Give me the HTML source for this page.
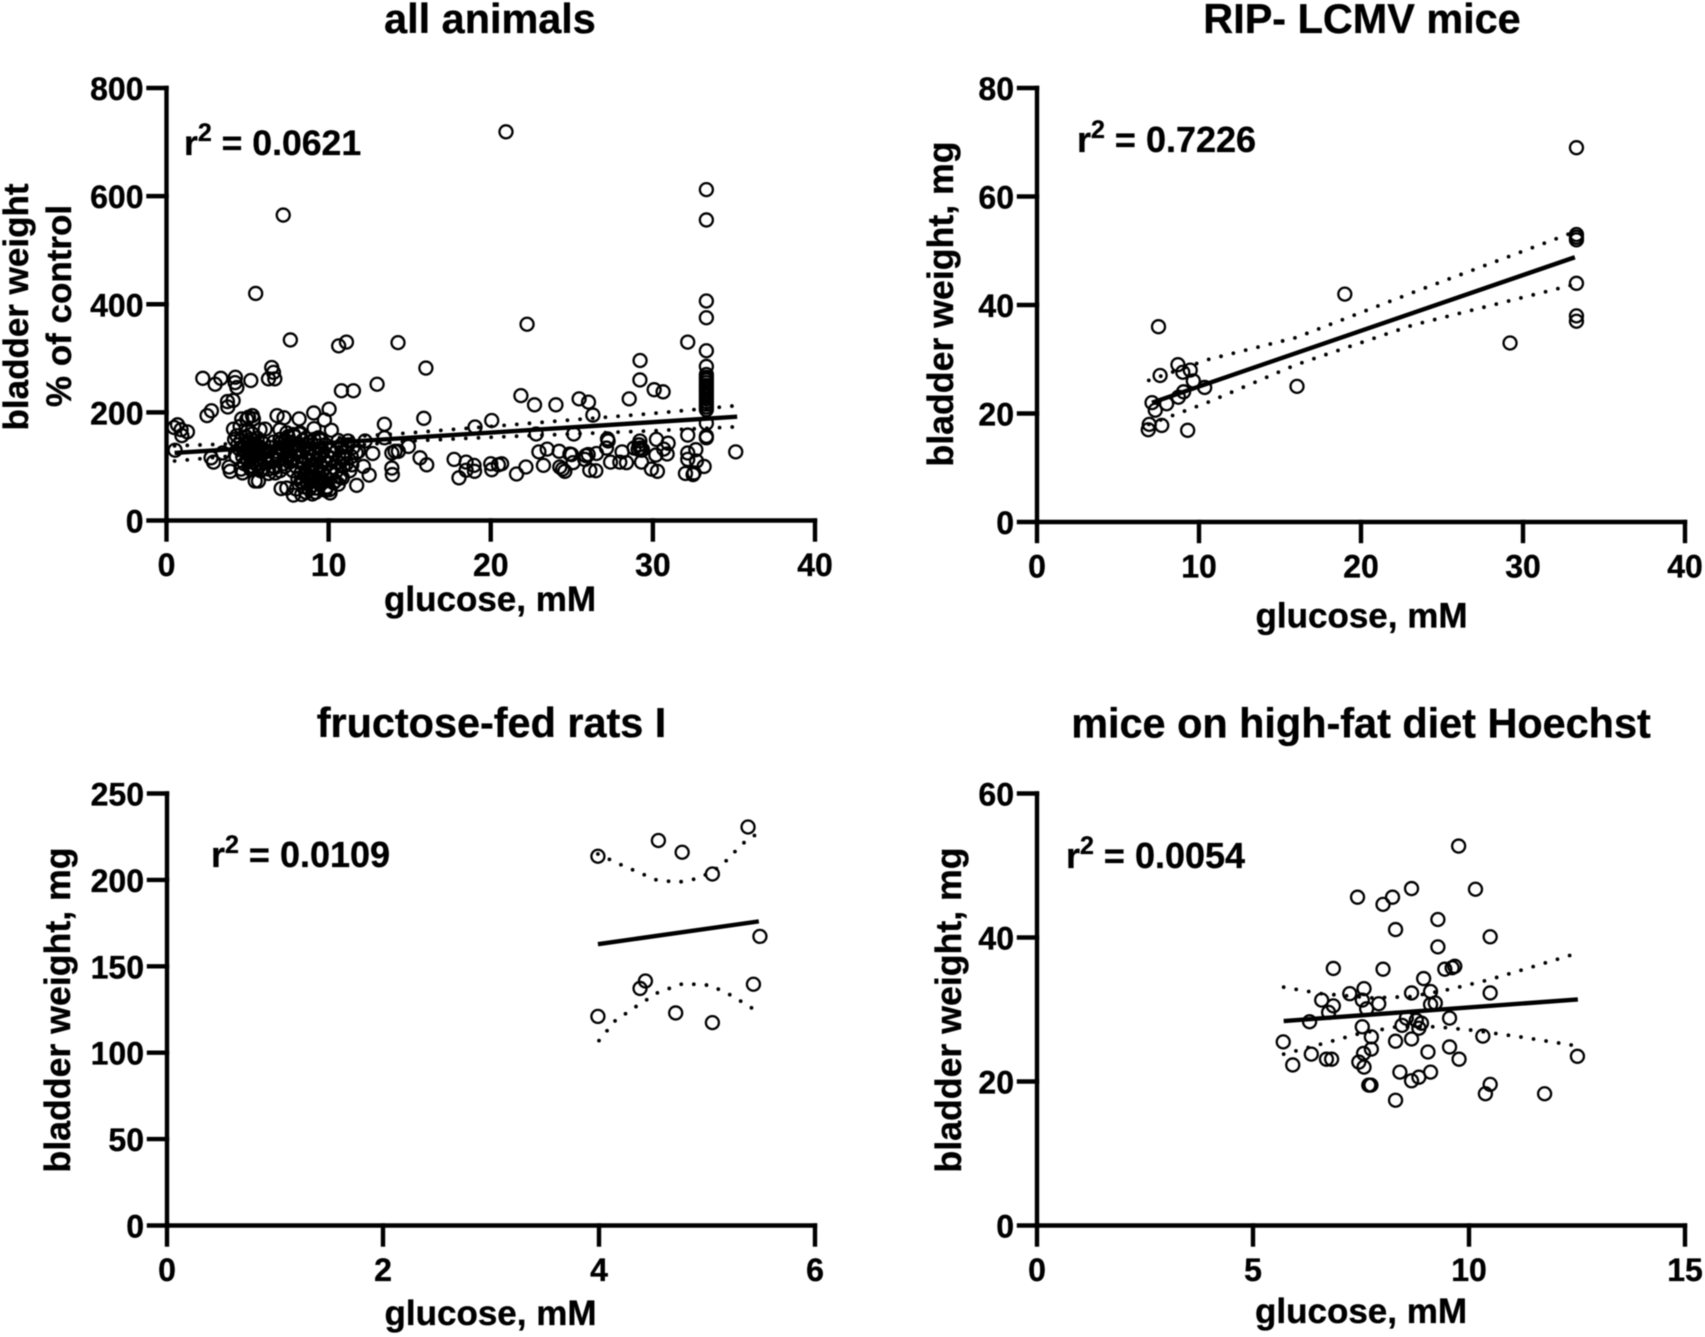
<!DOCTYPE html>
<html lang="en">
<head>
<meta charset="utf-8">
<title>Bladder weight versus glucose</title>
<style>
html,body{margin:0;padding:0;background:#fff;}
body{width:1705px;height:1337px;overflow:hidden;}
svg{display:block;filter:blur(0.4px);}
text{font-family:"Liberation Sans",Arial,sans-serif;font-weight:bold;fill:#000;stroke:#000;stroke-width:0.35px;}
.title{font-size:41.4px;text-anchor:middle;}
.axis-title{font-size:35px;text-anchor:middle;}
.axis-title-long{font-size:35.7px;text-anchor:middle;}
.tick-label{font-size:32px;}
.r2{font-size:36px;}
</style>
</head>
<body>
<svg id="chart" xmlns="http://www.w3.org/2000/svg" width="1705" height="1337" viewBox="0 0 1705 1337">
<rect width="1705" height="1337" fill="#fff"/>

<text class="title" x="490" y="33">all animals</text>
<text class="axis-title" transform="translate(28,307) rotate(-90)">bladder weight</text>
<text class="axis-title" transform="translate(71,306) rotate(-90)">% of control</text>
<text class="axis-title" x="490" y="611">glucose, mM</text>
<text class="r2" x="184" y="155" style="font-size:35.6px">r<tspan dy="-14" font-size="25">2</tspan><tspan dy="14"> = 0.0621</tspan></text>

<text class="title" x="1362" y="33">RIP- LCMV mice</text>
<text class="axis-title-long" transform="translate(953,304) rotate(-90)">bladder weight, mg</text>
<text class="axis-title" x="1361.5" y="627.5">glucose, mM</text>
<text class="r2" x="1077" y="152">r<tspan dy="-14" font-size="25">2</tspan><tspan dy="14"> = 0.7226</tspan></text>

<text class="title" x="491.5" y="737">fructose-fed rats I</text>
<text class="axis-title-long" transform="translate(70,1010) rotate(-90)">bladder weight, mg</text>
<text class="axis-title" x="490.5" y="1325">glucose, mM</text>
<text class="r2" x="211" y="867">r<tspan dy="-14" font-size="25">2</tspan><tspan dy="14"> = 0.0109</tspan></text>

<text class="title" x="1361" y="737.5">mice on high-fat diet Hoechst</text>
<text class="axis-title-long" transform="translate(961,1010) rotate(-90)">bladder weight, mg</text>
<text class="axis-title" x="1361" y="1323">glucose, mM</text>
<text class="r2" x="1066" y="868">r<tspan dy="-14" font-size="25">2</tspan><tspan dy="14"> = 0.0054</tspan></text>
</svg>

<script>
/* ---------- panel 1: all animals ---------- */
const allXTicks = [0, 10, 20, 30, 40];
const allYTicks = [0, 200, 400, 600, 800];

const allUpperLeftX = [7.64,10.62,11.1,14.28,16,6.49,6.6,6.29,6.68,2.24,
  3,3.35,4.25,4.23,4.34,5.2,10.79,11.53,12.99,4.11,
  3.76,3.78,2.5,2.77,10.03,9.08,9.74,8.18,6.82,7.25,
  13.44,15.87,19.03,20.06,10.17,9.1,0.68,0.47,0.9,1.29,
  0.95,0.53,20.94,7.2,5.5,22.24];
const allUpperLeftY = [334,323,330,329,282,283,274,262,262,263,
  252,263,265,255,246,259,240,240,252,222,
  220,210,194,203,206,199,186,188,194,190,
  178,189,173,185,167,170,177,172,168,164,
  157,130,719,565,420,363];

const allLowerLeftX = [4.64,4.95,5.3,5.36,5.06,4.13,4.54,4.34,6.08,5.77,
  7.0,7.42,7.83,8.24,9.37,11.2,12.25,13.44,14.92,14.1,
  13.9,14.3,11.84,11.43,12.15,12.72,15.64,16.05,17.74,18.48,
  18.97,19,18.48,18.04,20,20.06,20.47,13.9,13.93,12.5,
  11.73,10.85,2.75,2.9,3.47,3.86,3.93,4.69,6.29,6.7,
  5.47,5.67,7.07,7.42,7.83,8.34,9,10.09,10.05,10.6,
  10.4];
const allLowerLeftY = [188,187,194,188,191,169,174,157,169,168,
  168,162,159,162,153,147,147,153,137,128,
  125,128,128,103,100,124,116,103,113,108,
  102,91,93,79,105,94,103,97,85,84,
  65,79,116,108,125,99,91,88,87,88,
  73,73,59,60,47,48,49,51,57,67,
  73];

const allRightX = [20.67,21.59,22.17,21.86,22.7,24.02,25.45,26.03,26.3,22.8,
  25.12,22.97,23.48,23.25,24.22,24.88,24.98,25.08,24.26,24.43,
  24.57,25.86,26.01,26.52,25.8,26.11,26.48,27.14,27.24,27.2,
  27.39,27.96,28.37,28.1,28.84,29.2,29.15,29.23,29.3,29.09,
  29.36,29.3,28.54,29.2,29.21,30.08,30.63,30.22,30.94,30.67,
  30.88,30.18,29.91,30.28,32.15,32.15,32.15,32.15,32.65,32.69,
  32.01,32.48,32.54,33.16,35.11];
const allRightY = [105,86,99,231,214,214,225,219,195,160,
  160,127,132,102,128,123,122,107,99,95,
  91,120,122,124,113,93,92,134,147,151,
  108,108,107,127,134,147,140,134,130,132,
  131,108,225,260,296,242,238,150,143,132,
  123,121,95,91,330,158,125,113,131,110,
  87,85,88,100,127];

const allColumnX = [33.3,33.3,33.3,33.3,33.3,33.3,33.3,33.3,33.3,33.3,
  33.3,33.3,33.3,33.3,33.3,33.3,33.3,33.3,33.3,33.3,
  33.3,33.3,33.3];
const allColumnY = [612,556,406,375,314,285,270,265,260,255,
  250,245,240,235,230,225,220,215,210,205,
  180,156,153];

const allDenseAX = [4.5,4.6,4.7,4.8,4.8,4.9,4.9,5.0,5.0,5.0,
  5.1,5.1,5.1,5.2,5.2,5.2,5.2,5.3,5.3,5.3,
  5.3,5.4,5.4,5.4,5.4,5.5,5.5,5.5,5.6,5.6,
  5.6,5.7,5.7,5.8,5.8,5.9,6.0,6.1,6.2,6.3,
  6.4,6.5,6.6,6.8,4.4,4.3,4.2,4.6];
const allDenseAY = [132,148,118,140,105,155,125,135,112,165,
  145,122,100,150,130,115,95,140,125,108,
  160,135,118,98,148,142,122,105,152,128,
  112,135,100,118,92,125,142,108,128,95,
  135,115,100,122,140,118,150,95];

const allDenseBX = [7.5,7.6,7.7,7.8,7.8,7.9,8.0,8.0,8.1,8.1,
  8.2,8.2,8.2,8.3,8.3,8.4,8.4,8.4,8.5,8.5,
  8.5,8.6,8.6,8.6,8.7,8.7,8.7,8.8,8.8,8.8,
  8.8,8.9,8.9,8.9,9.0,9.0,9.0,9.0,9.1,9.1,
  9.1,9.2,9.2,9.2,9.3,9.3,9.3,9.4,9.4,9.5,
  9.5,9.5,9.6,9.6,9.7,9.7,9.8,9.8,9.9,9.9,
  10.0,10.0,10.1,10.1,10.2,10.3,10.3,10.4,10.5,10.6,
  10.7,10.8,10.9,11.0,7.0,7.2,7.3,7.4,6.9,8.0,
  8.6,9.2,9.8,8.3,8.8];
const allDenseBY = [128,145,112,138,92,155,125,100,142,78,
  130,108,160,118,88,148,128,70,135,105,
  62,152,115,85,140,95,68,125,110,78,
  58,145,100,72,132,118,90,65,150,105,
  80,128,95,60,138,112,75,122,85,148,
  100,68,130,90,112,72,140,82,120,62,
  105,75,130,88,115,98,70,125,92,108,
  80,135,100,118,142,128,115,135,120,58,
  52,52,56,72,82];

const allBridgeX = [6.6,6.8,6.9,7.0,7.1,7.2,7.3,7.4,7.5,7.6,
  7.7,6.5,6.7,7.0,7.3,10.6,10.8,11.0,11.2,11.4,
  11.5,11.7,10.9,11.1,11.3];
const allBridgeY = [145,128,112,150,135,105,145,120,155,108,
  132,118,98,92,100,148,140,128,140,118,
  135,125,115,105,92];

const allFitX = [0.5, 35.2];
const allFitY = [125, 192];
const allBandX = [0.5, 5, 10, 15, 20, 25, 30, 35];
const allBandUpper = [138, 143, 152, 162, 174, 186, 198, 212];
const allBandLower = [110, 122, 135, 147, 154, 160, 166, 173];

/* ---------- panel 2: RIP-LCMV mice ---------- */
const ripXTicks = [0, 10, 20, 30, 40];
const ripYTicks = [0, 20, 40, 60, 80];
const ripGlucose = [33.3,33.3,33.3,33.3,33.3,33.3,33.3,29.2,19,16.05,
  7.5,7.6,8.7,9,9.46,9.65,10.35,9.05,8.73,8,
  7.1,7.3,6.93,6.87,7.7,9.3];
const ripWeight = [69,53,52.5,52,44,38,37,33,42,25,
  36,27,29,27.6,28,26,24.8,24,23,21.8,
  22,20.6,18,17,17.8,16.9];
const ripFitX = [7.1, 33.2];
const ripFitY = [22, 48.8];
const ripBandX = [6.9, 10.5, 16, 23.2, 33.2];
const ripBandUpper = [26.1, 29.9, 34, 42.3, 53.5];
const ripBandLower = [18, 22, 29, 36.3, 43.8];

/* ---------- panel 3: fructose-fed rats ---------- */
const fructXTicks = [0, 2, 4, 6];
const fructYTicks = [0, 50, 100, 150, 200, 250];
const fructGlucose = [3.99,4.55,4.77,5.05,5.38,5.49,5.43,4.43,4.38,4.71,5.05,3.99];
const fructWeight = [213.7,222.8,216,203.4,230.6,167.3,139.6,141.5,137.2,123,117.4,121];
const fructFitX = [3.99, 5.48];
const fructFitY = [162.8, 176];
const fructUpperX = [3.99, 4.23, 4.53, 4.73, 4.93, 5.13, 5.33, 5.47];
const fructUpperY = [215, 208, 200, 198.6, 201, 208, 221, 227];
const fructLowerX = [4, 4.15, 4.35, 4.55, 4.78, 5.03, 5.23, 5.45];
const fructLowerY = [107, 118.5, 127, 135, 140, 139, 133, 124.5];

/* ---------- panel 4: high-fat diet mice ---------- */
const fatXTicks = [0, 5, 10, 15];
const fatYTicks = [0, 20, 40, 60];
const fatGlucose = [7.42,8.01,8.23,8.67,10.15,9.28,8.3,10.49,9.28,6.86,
  8.01,9.44,9.61,9.67,8.95,7.57,7.24,8.67,9.11,10.49,
  6.59,7.53,7.91,6.86,6.75,7.63,9.11,9.22,6.31,9.55,
  8.55,8.78,8.9,8.84,8.45,7.53,7.74,8.3,8.67,5.7,
  9.55,9.05,9.77,7.74,7.56,6.35,6.7,6.82,7.45,7.57,
  5.92,8.4,9.11,8.84,8.67,10.32,12.51,10.49,10.38,11.75,
  7.68,7.73,8.3,9.76];
const fatWeight = [45.6,44.6,45.6,46.8,46.7,42.5,41.1,40.1,38.7,35.7,
  35.6,35.6,35.8,36,34.3,32.9,32.2,32.3,32.5,32.3,
  31.3,31.3,30.8,30.5,29.6,30.1,30.7,30.9,28.3,28.8,
  28.8,28.5,28.1,27.4,27.8,27.6,26.2,25.6,25.9,25.5,
  24.8,24.1,23.1,24.5,23.9,23.8,23.1,23.1,22.7,22,
  22.3,21.3,21.3,20.6,20.1,26.3,23.5,19.6,18.3,18.3,
  19.5,19.5,17.4,52.7];
const fatFitX = [5.71, 12.52];
const fatFitY = [28.4, 31.4];
const fatUpperX = [5.71, 6.58, 7.78, 8.67, 9.55, 10.44, 11.29, 12.44];
const fatUpperY = [33.1, 32.2, 31.6, 31.8, 32.8, 34.1, 35.6, 37.7];
const fatLowerX = [5.71, 6.58, 7.43, 8.32, 9.24, 10.11, 11.29, 12.44];
const fatLowerY = [23.8, 25.2, 26.6, 27.6, 27.6, 27.1, 26.1, 25];

const svgNS = 'http://www.w3.org/2000/svg';
const svg = document.getElementById('chart');

function linearScale(domainMax, start, end) {
  return function (v) { return start + (v / domainMax) * (end - start); };
}

function addLine(x1, y1, x2, y2, width, name) {
  const el = document.createElementNS(svgNS, 'line');
  el.setAttribute('x1', x1);
  el.setAttribute('y1', y1);
  el.setAttribute('x2', x2);
  el.setAttribute('y2', y2);
  el.setAttribute('stroke', '#000');
  el.setAttribute('stroke-width', width);
  el.setAttribute('stroke-linecap', 'square');
  
  
  svg.appendChild(el);
}

function addLabel(x, y, anchor, content, name) {
  const el = document.createElementNS(svgNS, 'text');
  el.setAttribute('class', 'tick-label');
  el.setAttribute('x', x);
  el.setAttribute('y', y);
  el.setAttribute('text-anchor', anchor);
  
  
  el.textContent = content;
  svg.appendChild(el);
}

function drawAxes(sx, sy, xTicks, yTicks, prefix) {
  const y0 = sy(0);
  const x0 = sx(0);
  addLine(x0, y0, x0, sy(yTicks[yTicks.length - 1]), 4.4, prefix + '-y-axis');
  addLine(x0, y0, sx(xTicks[xTicks.length - 1]), y0, 4.4, prefix + '-x-axis');
  xTicks.forEach(function (t) {
    addLine(sx(t), y0, sx(t), y0 + 19, 4.4, prefix + '-x-tick');
    addLabel(sx(t), y0 + 55.5, 'middle', String(t), prefix + '-x-tick-label');
  });
  yTicks.forEach(function (t) {
    addLine(x0 - 18, sy(t), x0, sy(t), 4.4, prefix + '-y-tick');
    addLabel(x0 - 23, sy(t) + 12, 'end', String(t), prefix + '-y-tick-label');
  });
}

function drawPoints(xs, ys, sx, sy, prefix) {
  xs.forEach(function (x, i) {
    const c = document.createElementNS(svgNS, 'circle');
    c.setAttribute('cx', sx(x));
    c.setAttribute('cy', sy(ys[i]));
    c.setAttribute('r', 6.5);
    c.setAttribute('fill', 'none');
    c.setAttribute('stroke', '#000');
    c.setAttribute('stroke-width', 2.3);
    
    
    svg.appendChild(c);
  });
}

function drawCurve(xs, ys, sx, sy, dotted, name) {
  const p = document.createElementNS(svgNS, 'polyline');
  p.setAttribute('points', xs.map(function (x, i) { return sx(x) + ',' + sy(ys[i]); }).join(' '));
  p.setAttribute('fill', 'none');
  p.setAttribute('stroke', '#000');
  if (dotted) {
    p.setAttribute('stroke-width', 3.8);
    p.setAttribute('stroke-linecap', 'round');
    p.setAttribute('stroke-dasharray', '0 12.7');
  } else {
    p.setAttribute('stroke-width', 4.4);
  }
  
  
  svg.appendChild(p);
}

/* panel 1 */
const allSx = linearScale(40, 166.5, 815);
const allSy = linearScale(800, 520.5, 88);
drawAxes(allSx, allSy, allXTicks, allYTicks, 'all-animals');
drawPoints(allUpperLeftX, allUpperLeftY, allSx, allSy, 'all-animals');
drawPoints(allLowerLeftX, allLowerLeftY, allSx, allSy, 'all-animals');
drawPoints(allRightX, allRightY, allSx, allSy, 'all-animals');
drawPoints(allColumnX, allColumnY, allSx, allSy, 'all-animals');
drawPoints(allDenseAX, allDenseAY, allSx, allSy, 'all-animals');
drawPoints(allDenseBX, allDenseBY, allSx, allSy, 'all-animals');
drawPoints(allBridgeX, allBridgeY, allSx, allSy, 'all-animals');
drawCurve(allFitX, allFitY, allSx, allSy, false, 'all-animals-fit-line');
drawCurve(allBandX, allBandUpper, allSx, allSy, true, 'all-animals-upper-ci');
drawCurve(allBandX, allBandLower, allSx, allSy, true, 'all-animals-lower-ci');

/* panel 2 */
const ripSx = linearScale(40, 1037, 1685);
const ripSy = linearScale(80, 522, 88);
drawAxes(ripSx, ripSy, ripXTicks, ripYTicks, 'rip-lcmv');
drawPoints(ripGlucose, ripWeight, ripSx, ripSy, 'rip-lcmv');
drawCurve(ripFitX, ripFitY, ripSx, ripSy, false, 'rip-lcmv-fit-line');
drawCurve(ripBandX, ripBandUpper, ripSx, ripSy, true, 'rip-lcmv-upper-ci');
drawCurve(ripBandX, ripBandLower, ripSx, ripSy, true, 'rip-lcmv-lower-ci');

/* panel 3 */
const fructSx = linearScale(6, 167, 815);
const fructSy = linearScale(250, 1225.5, 793.5);
drawAxes(fructSx, fructSy, fructXTicks, fructYTicks, 'fructose-rats');
drawPoints(fructGlucose, fructWeight, fructSx, fructSy, 'fructose-rats');
drawCurve(fructFitX, fructFitY, fructSx, fructSy, false, 'fructose-rats-fit-line');
drawCurve(fructUpperX, fructUpperY, fructSx, fructSy, true, 'fructose-rats-upper-ci');
drawCurve(fructLowerX, fructLowerY, fructSx, fructSy, true, 'fructose-rats-lower-ci');

/* panel 4 */
const fatSx = linearScale(15, 1037, 1685);
const fatSy = linearScale(60, 1225.5, 793.5);
drawAxes(fatSx, fatSy, fatXTicks, fatYTicks, 'high-fat-mice');
drawPoints(fatGlucose, fatWeight, fatSx, fatSy, 'high-fat-mice');
drawCurve(fatFitX, fatFitY, fatSx, fatSy, false, 'high-fat-mice-fit-line');
drawCurve(fatUpperX, fatUpperY, fatSx, fatSy, true, 'high-fat-mice-upper-ci');
drawCurve(fatLowerX, fatLowerY, fatSx, fatSy, true, 'high-fat-mice-lower-ci');
</script>
</body>
</html>
